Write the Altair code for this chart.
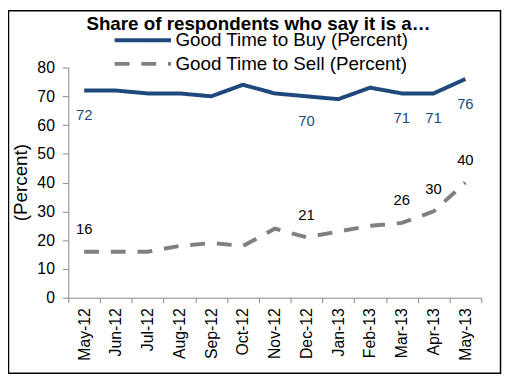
import altair as alt
import pandas as pd

months = ["May-12", "Jun-12", "Jul-12", "Aug-12", "Sep-12", "Oct-12", "Nov-12",
          "Dec-12", "Jan-13", "Feb-13", "Mar-13", "Apr-13", "May-13"]
buy = [72, 72, 71, 71, 70, 74, 71, 70, 69, 73, 71, 71, 76]
sell = [16, 16, 16, 18, 19, 18, 24, 21, 23, 25, 26, 30, 40]
labelled = ["May-12", "Dec-12", "Mar-13", "Apr-13", "May-13"]
series_names = ["Good Time to Buy (Percent)", "Good Time to Sell (Percent)"]
title_text = "Share of respondents who say it is a…"
y_ticks = [0, 10, 20, 30, 40, 50, 60, 70, 80]

rows = []
for m, b, s in zip(months, buy, sell):
    rows.append({"month": m, "series": series_names[0], "value": b, "label": m in labelled})
    rows.append({"month": m, "series": series_names[1], "value": s, "label": m in labelled})
df = pd.DataFrame(rows)

FONT = "Liberation Sans"
BLUE = "#1F497D"
GREY = "#808080"
AXIS = "#868686"

x = alt.X("month:N", sort=months, title=None,
          scale=alt.Scale(type="band", paddingInner=0, paddingOuter=0),
          axis=alt.Axis(labelAngle=270, tickBand="extent", labelFontSize=16, labelFont=FONT,
                        labelColor="black", domainColor=AXIS, tickColor=AXIS, tickSize=5,
                        labelPadding=5, grid=False))
y = alt.Y("value:Q", scale=alt.Scale(domain=[0, 80]), title="(Percent)",
          axis=alt.Axis(values=y_ticks, grid=False, labelFontSize=16, labelFont=FONT,
                        labelColor="black", domainColor=AXIS, tickColor=AXIS, tickSize=6,
                        labelPadding=8, titleFontSize=19, titleFont=FONT, titleFontWeight="normal",
                        titleColor="black", titleX=-48, titleY=116, titleBaseline="middle",
                        titleAlign="center", titleAngle=270))

legend_kw = dict(orient="none", legendX=64, legendY=-39.2, title=None, symbolType="M-3,0H3",
                 symbolSize=361, symbolStrokeWidth=4, labelFontSize=19, labelFont=FONT,
                 labelColor="black", labelOffset=21.5, padding=0, rowPadding=2, labelLimit=0)

color = alt.Color("series:N", scale=alt.Scale(domain=series_names, range=[BLUE, GREY]),
                  legend=alt.Legend(**legend_kw))
dash = alt.StrokeDash("series:N", scale=alt.Scale(domain=series_names, range=[[1, 0], [15, 12]]),
                      legend=alt.Legend(**legend_kw))

base = alt.Chart(df)
lines = base.mark_line(strokeWidth=4).encode(x=x, y=y, color=color, strokeDash=dash)

buy_labels = base.transform_filter(
    (alt.datum.label == True) & (alt.datum.series == series_names[0])
).mark_text(dy=25, color=BLUE, fontSize=15, font=FONT).encode(x=x, y=y, text="value:Q")

sell_labels = base.transform_filter(
    (alt.datum.label == True) & (alt.datum.series == series_names[1])
).mark_text(dy=-23, color="black", fontSize=15, font=FONT).encode(x=x, y=y, text="value:Q")

title = alt.Chart(pd.DataFrame({"t": [title_text]})).mark_text(
    fontSize=19, fontWeight="bold", font=FONT, color="black", baseline="alphabetic", align="center"
).encode(text="t:N", x=alt.value(192.5), y=alt.value(-37.5))

border = alt.Chart(pd.DataFrame({"a": [0]})).mark_rect(
    filled=False, stroke="black", strokeWidth=1.5
).encode(x=alt.value(-60.5), x2=alt.value(437.5), y=alt.value(-57.5), y2=alt.value(309.5))

chart = alt.layer(border, lines, buy_labels, sell_labels, title).properties(
    width=418, height=233,
    autosize=alt.AutoSizeParams(type="none"),
    padding={"left": 61, "top": 58, "right": 21, "bottom": 78},
).configure_view(stroke=None)

chart.save("out.html", embed_options={"renderer": "svg", "actions": False})
